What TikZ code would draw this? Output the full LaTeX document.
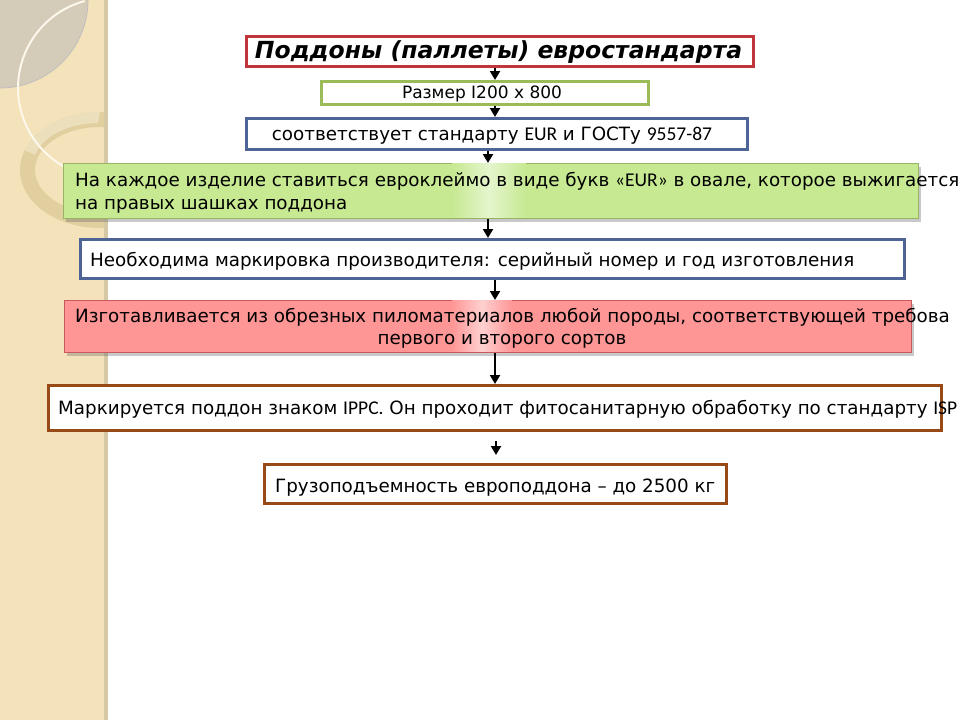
\documentclass[tikz,border=0pt]{standalone}
\usepackage{fontspec}
\setmainfont{DejaVu Sans}
\newfontfamily\carl{Carlito}
\usetikzlibrary{arrows.meta,shadows}
\definecolor{stripbg}{RGB}{244,226,186}
\definecolor{stripedge}{RGB}{214,200,165}
\definecolor{lensgray}{RGB}{212,203,184}
\definecolor{ringcol}{RGB}{226,207,160}
\definecolor{ringlight}{RGB}{244,234,208}
\definecolor{arcwhite}{RGB}{252,248,236}
\definecolor{redb}{RGB}{192,52,60}
\definecolor{greenb}{RGB}{155,187,89}
\definecolor{blueb}{RGB}{79,100,150}
\definecolor{brownb}{RGB}{152,74,22}
\definecolor{greenfill}{RGB}{198,233,145}
\definecolor{greenedge}{RGB}{150,180,100}
\definecolor{pinkfill}{RGB}{255,150,150}
\definecolor{pinkedge}{RGB}{200,90,95}
\newcommand\carlpart[1]{{\carl\fontsize{19.5}{22}\selectfont #1}}
\tikzset{
  boxw/.style={draw, line width=3pt, fill=white, inner sep=0pt},
  shadebox/.style={draw, line width=1pt, inner sep=0pt,
    drop shadow={shadow xshift=2pt, shadow yshift=-3pt, opacity=0.35, fill=black!60}},
  txt/.style={inner sep=0pt, font=\fontsize{18.3}{22}\selectfont},
  arr/.style={line width=2pt, -{Triangle[width=10pt,length=9pt]}},
}
\begin{document}
\begin{tikzpicture}[x=1pt,y=-1pt]
\useasboundingbox (0,0) rectangle (960,720);
\fill[white] (0,0) rectangle (960,720);
% decorative strip
\fill[stripbg] (0,0) rectangle (105,720);
\begin{scope}
\clip (0,0) rectangle (105,720);
\fill[lensgray] (0,0) -- (88,0) arc[start angle=0,end angle=90,radius=88] -- cycle;
\draw[line width=0.8pt, black!25] (88,0) arc[start angle=0,end angle=90,radius=88];
\fill[ringcol, even odd rule] (100,170) ellipse[x radius=80,y radius=58]
      (100,170) ellipse[x radius=65,y radius=43];
\fill[ringlight, opacity=0.6] (100,112) arc[start angle=-90,end angle=-160,x radius=80,y radius=58]
   -- (35,155) arc[start angle=-165,end angle=-90,x radius=65,y radius=43] -- cycle;
\draw[line width=2pt, arcwhite] (108,88) ++(95:90) arc[start angle=95,end angle=255,radius=90];
\end{scope}
\fill[stripedge] (104,0) rectangle (108,720);
% boxes
\node[boxw, draw=redb, minimum width=507pt, minimum height=30pt, anchor=north west] (t) at (245,35) {};
\node[txt, anchor=base, font=\fontsize{23.5}{27}\selectfont\bfseries\itshape] (tt) at (498.5,58) {Поддоны (паллеты) евростандарта};
\node[boxw, draw=greenb, minimum width=327pt, minimum height=23pt, anchor=north west] (r) at (320,80) {};
\node[txt, anchor=base, font=\fontsize{17}{20}\selectfont] (rt) at (482,98) {Размер I200 x 800};
\node[boxw, draw=blueb, minimum width=501pt, minimum height=31pt, anchor=north west] (s) at (245,117) {};
\node[txt, anchor=base] (st) at (492,140) {соответствует стандарту \carlpart{EUR} и ГОСТу \carlpart{9557-87}};
\node[shadebox, draw=greenedge, fill=greenfill, minimum width=855pt, minimum height=55pt, anchor=north west] (g) at (63,163) {};
\shade[left color=greenfill, right color=greenfill, middle color=greenfill!45!white] (452,163.5) rectangle (526,217.5);
\node[txt, anchor=base west] (gt1) at (75,186) {На каждое изделие ставиться евроклеймо в виде букв \carlpart{«EUR»} в овале, которое выжигается};
\node[txt, anchor=base west] (gt2) at (75,209) {на правых шашках поддона};
\node[boxw, draw=blueb, minimum width=824pt, minimum height=39pt, anchor=north west] (m) at (79,238) {};
\node[txt, anchor=base west] (mt) at (90,266) {Необходима маркировка производителя: серийный номер и год изготовления};
\node[shadebox, draw=pinkedge, fill=pinkfill, minimum width=847pt, minimum height=52pt, anchor=north west] (p) at (64,300) {};
\shade[left color=pinkfill, right color=pinkfill, middle color=pinkfill!45!white] (452,300.5) rectangle (512,351.5);
\node[txt, anchor=base west] (pt1) at (75,322) {Изготавливается из обрезных пиломатериалов любой породы, соответствующей требова};
\node[txt, anchor=base] (pt2) at (502,344) {первого и второго сортов};
\node[boxw, draw=brownb, minimum width=893pt, minimum height=45pt, anchor=north west] (k) at (47,384) {};
\node[txt, anchor=base west] (kt) at (58,414) {Маркируется поддон знаком \carlpart{IPPC.} Он проходит фитосанитарную обработку по стандарту \carlpart{ISP}};
\node[boxw, draw=brownb, minimum width=462pt, minimum height=39pt, anchor=north west] (w) at (263,463) {};
\node[txt, anchor=base west] (wt) at (275,492) {Грузоподъемность европоддона – до 2500 кг};
% arrows
\draw[arr] (t.south -| 495,0) -- (r.north -| 495,0);
\draw[arr] (r.south -| 495,0) -- (s.north -| 495,0);
\draw[arr] (s.south -| 488,0) -- (g.north -| 488,0);
\draw[arr] (g.south -| 488,0) -- (m.north -| 488,0);
\draw[arr] (m.south -| 495,0) -- (p.north -| 495,0);
\draw[arr] (p.south -| 495,0) -- (k.north -| 495,0);
\coordinate (a7s) at (496,441);
\coordinate (a7e) at (496,455);
\draw[arr] (a7s) -- (a7e);
\end{tikzpicture}
\end{document}
